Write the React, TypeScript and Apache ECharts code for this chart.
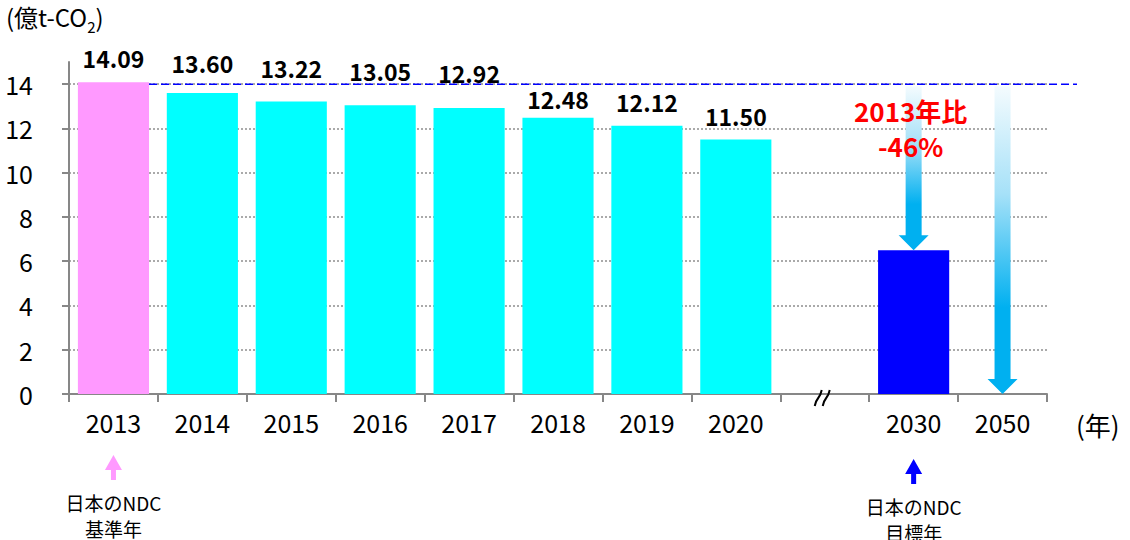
import React, { useEffect, useRef } from 'react';
import * as echarts from 'echarts';

// ---- data ----
const historyYears = ['2013', '2014', '2015', '2016', '2017', '2018', '2019', '2020'];
const historyValues = [14.09, 13.6, 13.22, 13.05, 12.92, 12.48, 12.12, 11.5];
const targetYear = '2030';
const targetValue = 6.5;
const goalYear = '2050';
const goalValue = 0;
const referenceLevel = 14;
const yTickValues = [0, 2, 4, 6, 8, 10, 12, 14];
const reductionLines = ['2013年比', '-46%'];
const baseYearNote = ['日本のNDC', '基準年'];
const targetYearNote = ['日本のNDC', '目標年'];
const yTitleMain = '(億t-CO';
const yTitleSub = '2';
const xUnit = '(年)';

const categories = [...historyYears, '', targetYear, goalYear];
const GAP_INDEX = historyYears.length;
const TARGET_INDEX = GAP_INDEX + 1;
const GOAL_INDEX = GAP_INDEX + 2;

// ---- styles ----
const FONT = '"Noto Sans CJK JP", "Noto Sans", sans-serif';
const PINK = '#FF99FF';
const CYAN = '#00FFFF';
const BLUE = '#0000FF';
const ARROW_BLUE = '#00B0F0';
const AXIS_GRAY = '#878787';
const LABEL_GAPS = [13, 18, 22, 23, 24, 7, 12, 12];

function arrowGradient() {
  return new echarts.graphic.LinearGradient(0, 0, 0, 1, [
    { offset: 0, color: '#F4FBFE' },
    { offset: 0.35, color: '#A6E1F8' },
    { offset: 0.72, color: ARROW_BLUE },
    { offset: 1, color: ARROW_BLUE },
  ]);
}

function buildOption() {
  const barData = categories.map((_, i) => {
    if (i < historyYears.length) {
      return {
        value: historyValues[i],
        itemStyle: { color: i === 0 ? PINK : CYAN },
        label: { show: true, distance: LABEL_GAPS[i] },
      };
    }
    if (i === TARGET_INDEX) {
      return { value: targetValue, itemStyle: { color: BLUE }, label: { show: false } };
    }
    return '-';
  });

  return {
    animation: false,
    backgroundColor: '#ffffff',
    grid: { left: 69, right: 83, top: 62, bottom: 146, containLabel: false },
    xAxis: {
      type: 'category',
      data: categories,
      boundaryGap: true,
      axisLine: { show: true, lineStyle: { color: AXIS_GRAY, width: 2 } },
      axisTick: { show: true, interval: 0, length: 8, lineStyle: { color: AXIS_GRAY, width: 2 } },
      axisLabel: { interval: 0, color: '#000', fontSize: 25, fontFamily: FONT, margin: 15 },
      splitLine: { show: false },
    },
    yAxis: {
      type: 'value',
      min: 0,
      max: 15,
      interval: 2,
      axisLine: { show: true, lineStyle: { color: AXIS_GRAY, width: 2 } },
      axisTick: { show: true, length: 7, lineStyle: { color: AXIS_GRAY, width: 2 }, customValues: yTickValues },
      axisLabel: {
        color: '#000',
        fontSize: 25,
        fontFamily: FONT,
        margin: 36,
        customValues: yTickValues,
      },
      splitLine: {
        show: true,
        lineStyle: { color: '#8f8f8f', width: 1.5, type: [2, 2] },
      },
    },
    series: [
      {
        type: 'bar',
        data: barData,
        barWidth: '80%',
        z: 2,
        label: {
          show: false,
          position: 'top',
          color: '#000',
          fontSize: 23,
          fontWeight: 'bold',
          fontFamily: FONT,
          formatter: (p: any) => Number(p.value).toFixed(2),
        },
      },
      {
        // dashed reference line at the 2013 level
        type: 'custom',
        clip: false,
        z: 4,
        data: [[0, referenceLevel]],
        renderItem: (params: any, api: any) => {
          const p = api.coord([api.value(0), api.value(1)]);
          const band = api.size([1, 0])[0];
          const cs = params.coordSys;
          return {
            type: 'line',
            shape: { x1: p[0] + band * 0.4, y1: p[1], x2: cs.x + cs.width + 30, y2: p[1] },
            style: { stroke: BLUE, lineWidth: 1.5, lineDash: [8, 4] },
          };
        },
      },
      {
        // reduction arrows (2030, 2050)
        type: 'custom',
        clip: false,
        z: 5,
        data: [
          [TARGET_INDEX, referenceLevel, targetValue],
          [GOAL_INDEX, referenceLevel, goalValue],
        ],
        renderItem: (params: any, api: any) => {
          const idx = api.value(0);
          const top = api.coord([idx, api.value(1)]);
          const bot = api.coord([idx, api.value(2)]);
          const x = top[0];
          const y0 = top[1] + 2;
          const y1 = bot[1];
          const sw = 8;
          const hw = 15;
          const hh = 15;
          const children: any[] = [
            {
              type: 'polygon',
              shape: {
                points: [
                  [x - sw, y0],
                  [x + sw, y0],
                  [x + sw, y1 - hh],
                  [x + hw, y1 - hh],
                  [x, y1],
                  [x - hw, y1 - hh],
                  [x - sw, y1 - hh],
                ],
              },
              style: { fill: arrowGradient() },
            },
          ];
          if (params.dataIndex === 0) {
            reductionLines.forEach((line, li) => {
              children.push({
                type: 'text',
                x: x - 3,
                y: top[1] + 26 + li * 35,
                style: {
                  text: line,
                  fill: '#FF0000',
                  fontSize: 26,
                  fontWeight: 'bold',
                  fontFamily: FONT,
                  align: 'center',
                  verticalAlign: 'middle',
                },
              });
            });
          }
          return { type: 'group', children };
        },
      },
      {
        // axis break marker and notes below the axis
        type: 'custom',
        clip: false,
        z: 6,
        data: [
          [GAP_INDEX, 0],
          [0, 1],
          [TARGET_INDEX, 2],
        ],
        renderItem: (params: any, api: any) => {
          const idx = api.value(0);
          const kind = api.value(1);
          const p = api.coord([idx, 0]);
          const x = p[0];
          const y = p[1];
          if (kind === 0) {
            const mk = (dx: number) => ({
              type: 'bezierCurve',
              shape: {
                x1: x + dx - 10,
                y1: y + 12,
                cpx1: x + dx - 8,
                cpy1: y + 2,
                cpx2: x + dx - 5,
                cpy2: y + 6,
                x2: x + dx - 3,
                y2: y - 4,
              },
              style: { stroke: '#000', lineWidth: 2, fill: null },
            });
            return { type: 'group', children: [mk(0), mk(8)] };
          }
          const color = kind === 1 ? PINK : BLUE;
          const lines = kind === 1 ? baseYearNote : targetYearNote;
          const dy = kind === 1 ? 0 : 4;
          const headTop = y + 61 + dy;
          const headH = 15;
          const headW = 8.5;
          const shaftW = 2.5;
          const shaftBottom = y + 86 + dy;
          const children: any[] = [
            {
              type: 'polygon',
              shape: {
                points: [
                  [x, headTop],
                  [x + headW, headTop + headH],
                  [x + shaftW, headTop + headH],
                  [x + shaftW, shaftBottom],
                  [x - shaftW, shaftBottom],
                  [x - shaftW, headTop + headH],
                  [x - headW, headTop + headH],
                ],
              },
              style: { fill: color },
            },
          ];
          lines.forEach((line, li) => {
            children.push({
              type: 'text',
              x,
              y: y + 108 + dy + li * 26,
              style: {
                text: line,
                fill: '#000',
                fontSize: 19,
                fontFamily: FONT,
                align: 'center',
                verticalAlign: 'middle',
              },
            });
          });
          return { type: 'group', children };
        },
      },
    ],
    graphic: [
      {
        type: 'text',
        left: 6,
        top: 5,
        style: {
          text: `{m|${yTitleMain}}{s|${yTitleSub}}{m|)}`,
          rich: {
            m: { fontSize: 24, fontFamily: FONT, fill: '#000', verticalAlign: 'bottom', lineHeight: 30 },
            s: { fontSize: 15, fontFamily: FONT, fill: '#000', verticalAlign: 'bottom', lineHeight: 22, padding: [0, 0, -5, 0] },
          },
        },
      },
      {
        type: 'text',
        left: 1076,
        top: 411,
        style: { text: xUnit, fontSize: 26, fontFamily: FONT, fill: '#000' },
      },
    ],
  };
}

export default function App() {
  const ref = useRef<HTMLDivElement>(null);
  useEffect(() => {
    document.body.style.margin = '0';
    if (!ref.current) return;
    const chart = echarts.init(ref.current, undefined, { renderer: 'svg' });
    chart.setOption(buildOption() as any);
    return () => chart.dispose();
  }, []);
  return <div ref={ref} style={{ width: 1130, height: 540, background: '#fff' }} />;
}
